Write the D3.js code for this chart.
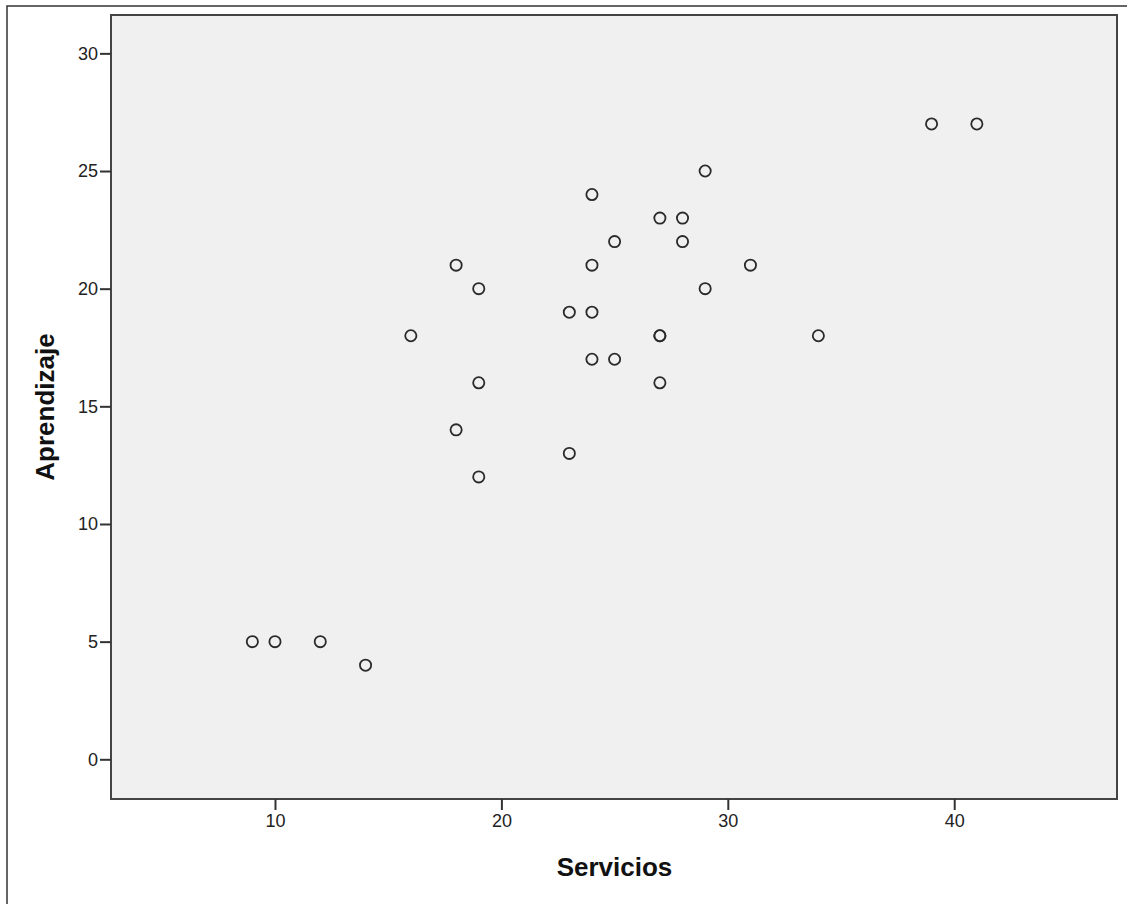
<!DOCTYPE html>
<html>
<head>
<meta charset="utf-8">
<script src="https://cdn.jsdelivr.net/npm/d3@7"></script>
<style>
  body { margin: 0; background: #fff; }
  svg { display: block; font-family: Arial, "Liberation Sans", sans-serif; }
</style>
</head>
<body>
<div id="chart"></div>
<script>
// --- Data (Servicios vs Aprendizaje) ---
const servicios   = [9, 10, 12, 14, 16, 18, 18, 19, 19, 19, 23, 23, 24, 24, 24, 24, 25, 25, 27, 27, 27, 27, 28, 28, 29, 29, 31, 34, 39, 41];
const aprendizaje = [5, 5, 5, 4, 18, 21, 14, 20, 16, 12, 19, 13, 24, 21, 19, 17, 22, 17, 23, 18, 18, 16, 23, 22, 25, 20, 21, 18, 27, 27];
const xTicks = [10, 20, 30, 40];
const yTicks = [0, 5, 10, 15, 20, 25, 30];

const width = 1127, height = 904;
const plot = { left: 111, top: 15, right: 1117, bottom: 799 };

const svg = d3.select("#chart").append("svg")
  .attr("width", width)
  .attr("height", height);

// outer frame
svg.append("rect")
  .attr("x", 7).attr("y", 6)
  .attr("width", width + 10).attr("height", height + 10)
  .attr("fill", "#fff")
  .attr("stroke", "#333")
  .attr("stroke-width", 1.5);

// --- Scales ---
const x = d3.scaleLinear().domain([2.757, 47.19]).range([plot.left, plot.right]);
const y = d3.scaleLinear().domain([-1.687, 31.63]).range([plot.bottom, plot.top]);

// plot background
svg.append("rect")
  .attr("x", plot.left).attr("y", plot.top)
  .attr("width", plot.right - plot.left)
  .attr("height", plot.bottom - plot.top)
  .attr("fill", "#f0f0f0")
  .attr("stroke", "#444")
  .attr("stroke-width", 2);

// --- Axes ---
const xAxis = svg.append("g")
  .attr("transform", `translate(0,${plot.bottom})`)
  .call(d3.axisBottom(x).tickValues(xTicks).tickSize(11).tickPadding(4));
const yAxis = svg.append("g")
  .attr("transform", `translate(${plot.left},0)`)
  .call(d3.axisLeft(y).tickValues(yTicks).tickSize(11).tickPadding(2));

[xAxis, yAxis].forEach(g => {
  g.select(".domain").remove();
  g.selectAll(".tick line").attr("stroke", "#333").attr("stroke-width", 2);
  g.selectAll(".tick text")
    .attr("fill", "#222")
    .style("font-size", "18px")
    .style("font-family", "Arial, 'Liberation Sans', sans-serif");
});

// --- Axis titles ---
svg.append("text")
  .attr("x", 614.5)
  .attr("y", 876)
  .attr("text-anchor", "middle")
  .style("font-size", "26px")
  .attr("font-weight", "bold")
  .attr("fill", "#111")
  .text("Servicios");

svg.append("text")
  .attr("transform", `translate(54,${(plot.top + plot.bottom) / 2}) rotate(-90)`)
  .attr("text-anchor", "middle")
  .style("font-size", "26px")
  .attr("font-weight", "bold")
  .attr("fill", "#111")
  .text("Aprendizaje");

// --- Points ---
svg.append("g")
  .selectAll("circle")
  .data(servicios.map((s, i) => ({ s, a: aprendizaje[i] })))
  .join("circle")
  .attr("cx", d => x(d.s))
  .attr("cy", d => y(d.a))
  .attr("r", 5.6)
  .attr("fill", "none")
  .attr("stroke", "#2a2a2a")
  .attr("stroke-width", 1.8);
</script>
</body>
</html>
